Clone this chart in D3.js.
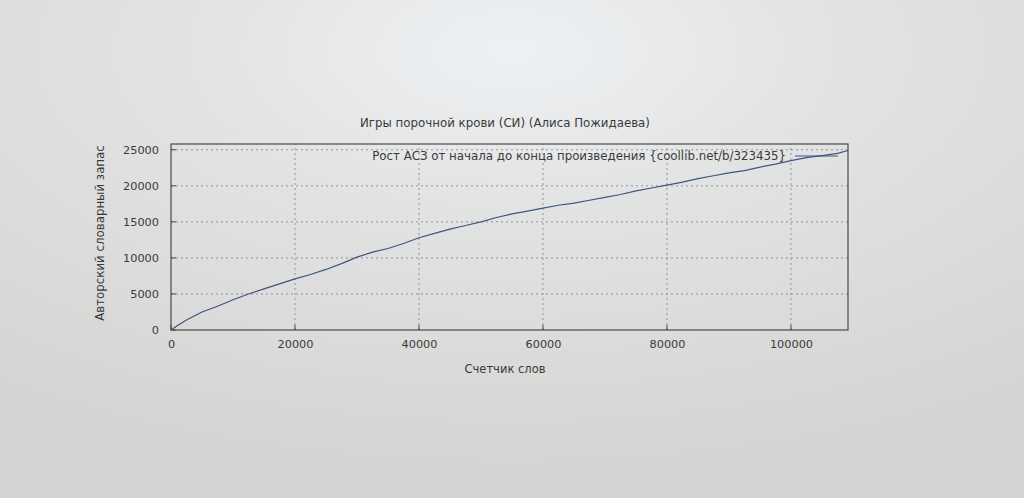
<!DOCTYPE html>
<html>
<head>
<meta charset="utf-8">
<script src="https://cdn.jsdelivr.net/npm/d3@7"></script>
<style>
html,body{margin:0;padding:0;overflow:hidden;}
svg{display:block;}
text{font-family:"DejaVu Sans",sans-serif;fill:#3a3a3a;}
</style>
</head>
<body>
<svg id="chart" width="1024" height="498"></svg>
<script>
const titleText = "Игры порочной крови (СИ) (Алиса Пожидаева)";
const xLabel = "Счетчик слов";
const yLabel = "Авторский словарный запас";
const legendText = "Рост АСЗ от начала до конца произведения {coollib.net/b/323435}";
const xTicks = [0, 20000, 40000, 60000, 80000, 100000];
const yTicks = [0, 5000, 10000, 15000, 20000, 25000];
const wordCount = [0,1000,2500,5000,7500,10000,12500,15000,17500,20000,22500,25000,27500,30000,32500,35000,37500,40000,42500,45000,47500,50000,52500,55000,57500,60000,62500,65000,67500,70000,72500,75000,77500,80000,82500,85000,87500,90000,92500,95000,97500,100000,102500,105000,107500,109200];
const vocabulary = [0,600,1400,2500,3300,4200,5000,5700,6400,7100,7700,8400,9200,10100,10800,11300,12000,12800,13400,14000,14500,15000,15600,16100,16500,16900,17300,17600,18000,18400,18800,19300,19700,20100,20500,21000,21400,21800,22100,22600,23000,23500,23900,24200,24500,24900];

const svg = d3.select("#chart");
const W = 1024, H = 498;

// photographed-screen background
const defs = svg.append("defs");
const rg = defs.append("radialGradient").attr("id","bg").attr("cx","50%").attr("cy","10%").attr("r","90%");
rg.append("stop").attr("offset","0%").attr("stop-color","#eef1f4");
rg.append("stop").attr("offset","35%").attr("stop-color","#e2e3e3");
rg.append("stop").attr("offset","100%").attr("stop-color","#d3d3d1");
svg.append("rect").attr("width",W).attr("height",H).attr("fill","url(#bg)");

const m = {left:171, right:848, top:144, bottom:330};
const x = d3.scaleLinear().domain([0, 109200]).range([m.left, m.right]);
const y = d3.scaleLinear().domain([0, 25800]).range([m.bottom, m.top]);

// grid
const g = svg.append("g");
g.selectAll("line.vg").data(xTicks.slice(1)).enter().append("line")
  .attr("x1",d=>x(d)).attr("x2",d=>x(d)).attr("y1",m.bottom).attr("y2",m.top)
  .attr("stroke","#8a8a8a").attr("stroke-width",0.9).attr("stroke-dasharray","2,3");
g.selectAll("line.hg").data(yTicks.slice(1)).enter().append("line")
  .attr("x1",m.left).attr("x2",m.right).attr("y1",d=>y(d)).attr("y2",d=>y(d))
  .attr("stroke","#8a8a8a").attr("stroke-width",0.9).attr("stroke-dasharray","2,3");

// axes
const xAxis = d3.axisBottom(x).tickValues(xTicks).tickSize(0).tickPadding(10).tickFormat(d3.format("d"));
const yAxis = d3.axisLeft(y).tickValues(yTicks).tickSize(0).tickPadding(12).tickFormat(d3.format("d"));
const gx = svg.append("g").attr("transform",`translate(0,${m.bottom})`).call(xAxis);
const gy = svg.append("g").attr("transform",`translate(${m.left},0)`).call(yAxis);
[gx,gy].forEach(a=>{a.select(".domain").remove(); a.selectAll("text").attr("font-size",11.3).attr("fill","#3a3a3a").attr("font-family","DejaVu Sans");});
// small inner ticks (gnuplot style)
svg.append("g").selectAll("line").data(xTicks).enter().append("line")
  .attr("x1",d=>x(d)).attr("x2",d=>x(d)).attr("y1",m.bottom).attr("y2",m.bottom-5).attr("stroke","#444");
svg.append("g").selectAll("line").data(yTicks).enter().append("line")
  .attr("x1",m.left).attr("x2",m.left+5).attr("y1",d=>y(d)).attr("y2",d=>y(d)).attr("stroke","#444");

// frame
svg.append("rect").attr("x",m.left).attr("y",m.top).attr("width",m.right-m.left).attr("height",m.bottom-m.top)
  .attr("fill","none").attr("stroke","#4a4a4a").attr("stroke-width",1.2);

// data line
const line = d3.line().x((d,i)=>x(wordCount[i])).y(d=>y(d));
svg.append("path").datum(vocabulary).attr("d",line).attr("fill","none")
  .attr("stroke","#3f5580").attr("stroke-width",1.2);

// legend
svg.append("text").attr("x",786).attr("y",160).attr("text-anchor","end").attr("font-size",11.8).text(legendText);
svg.append("line").attr("x1",795).attr("x2",838).attr("y1",156).attr("y2",156).attr("stroke","#3f5580").attr("stroke-width",1.2);

// title and labels
svg.append("text").attr("x",505).attr("y",127).attr("text-anchor","middle").attr("font-size",11.8).text(titleText);
svg.append("text").attr("x",505).attr("y",373).attr("text-anchor","middle").attr("font-size",11.5).text(xLabel);
svg.append("text").attr("transform","translate(104,233) rotate(-90)").attr("text-anchor","middle").attr("font-size",11.8).text(yLabel);
</script>
</body>
</html>
